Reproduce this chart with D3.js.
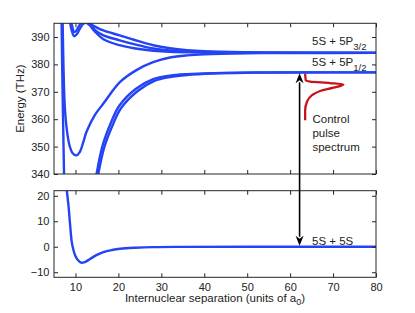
<!DOCTYPE html>
<html>
<head>
<meta charset="utf-8">
<script src="https://cdn.jsdelivr.net/npm/d3@7"></script>
<style>
  body { margin: 0; background: #fff; }
  text { font-family: "Liberation Sans", Arial, sans-serif; fill: #222; }
</style>
</head>
<body>
<div id="chart"></div>
<script>
// excited state potentials (separation in a0, energy in THz)
const curveA = [[6.75, 397], [6.9, 380], [7.05, 365], [7.2, 352], [7.35, 339]];
const curveB = [[7.0, 397], [7.2, 380], [7.5, 365], [8.0, 356], [8.6, 350.5], [9.3, 347.7], [10.2, 346.8],
  [11.0, 348.0], [11.8, 351.5], [12.6, 355.5], [14.5, 361.5], [16.5, 365.7], [20.4, 373.6], [24.3, 378.0],
  [28.1, 380.8], [32, 382.5], [36, 383.3], [40, 383.7], [50, 384.05], [60, 384.15], [80, 384.2]];
const curveU1 = [[12.6, 396.5], [14, 394.3], [16.5, 392.4], [20.3, 390.6], [23.6, 389.0], [28.1, 387.0],
  [32, 385.9], [36, 385.2], [40, 384.8], [50, 384.45], [60, 384.3], [80, 384.2]];
const curveU2 = [[8.9, 397], [9.3, 393.5], [9.7, 391.8], [10.2, 392.3], [10.8, 394], [11.6, 395.8], [12.3, 396.2],
  [13.2, 395.0], [14.5, 392.6], [16.5, 390.6], [20.3, 388.8], [23.6, 387.4], [28.1, 385.8], [32, 385.1],
  [36, 384.75], [40, 384.55], [50, 384.35], [60, 384.25], [80, 384.2]];
const curveU3 = [[8.6, 397], [9.1, 392.5], [9.7, 390.3], [10.3, 391], [11.0, 393], [11.8, 394.8], [12.5, 395.2],
  [13.3, 394.3], [14.5, 392], [16.5, 389.2], [20.3, 387.0], [23.6, 385.9], [28.1, 385.0], [32, 384.6],
  [40, 384.35], [50, 384.25], [80, 384.2]];
const curveL1 = [[14.8, 339], [16.3, 350.3], [18.3, 358.9], [20.2, 364.9], [24.1, 371.1], [28.1, 374.6], [32, 375.9],
  [36, 376.45], [42, 376.82], [50, 377.0], [60, 377.08], [80, 377.1]];
const curveL2 = [[15.2, 339], [16.7, 349.7], [18.7, 358.0], [20.6, 364.0], [24.5, 370.3], [28.4, 374.0], [32, 375.4],
  [36, 376.15], [42, 376.68], [50, 376.95], [60, 377.06], [80, 377.1]];
const excitedCurves = [curveA, curveB, curveU1, curveU2, curveU3, curveL1, curveL2];

// ground state potential (THz)
const groundCurve = [[7.9, 24], [7.97, 22.3], [8.36, 16.4], [8.76, 8.45], [9.14, 1.8], [9.5, -1.1], [9.93, -3.45],
  [10.6, -5.3], [11.4, -6.3], [12.2, -6.0], [13.4, -4.8], [15, -3.2], [16.5, -2.1], [18.5, -1.3], [20.4, -0.8],
  [24, -0.4], [28.2, -0.15], [35, -0.05], [50, 0], [80, 0]];

// control pulse spectrum, drawn sideways from a baseline separation
const spectrumBase = 63.5;
const spectrumEnergy = [376.6, 374.2, 373.7, 373.2, 372.7, 371.5, 370.3, 368.7, 366.3, 363.3, 359.6];
const spectrumAmp = [0, 0.15, 1.2, 5.8, 8.9, 6.6, 3.5, 1.55, 0.4, 0, 0];

const arrowSep = 62.2;
const levelP32 = 384.2, levelP12 = 377.1, levelS = 0;

const xTicks = [10, 20, 30, 40, 50, 60, 70, 80];
const topYTicks = [340, 350, 360, 370, 380, 390];
const botYTicks = [-10, 0, 10, 20];

const width = 415, height = 313;
const blue = '#2444f4', red = '#c4141c', axisColor = '#262626';

const svg = d3.select('#chart').append('svg')
  .attr('width', width).attr('height', height);

const x = d3.scaleLinear().domain([5, 80]).range([54, 376]);
const yTop = d3.scaleLinear().domain([340, 395]).range([174, 23.3]);
const yBot = d3.scaleLinear().domain([-12, 22]).range([277.3, 190.7]);

// clip paths for the two panels
const defs = svg.append('defs');
defs.append('clipPath').attr('id', 'clipTop').append('rect')
  .attr('x', x.range()[0]).attr('y', yTop.range()[1])
  .attr('width', x.range()[1] - x.range()[0]).attr('height', yTop.range()[0] - yTop.range()[1]);
defs.append('clipPath').attr('id', 'clipBot').append('rect')
  .attr('x', x.range()[0]).attr('y', yBot.range()[1])
  .attr('width', x.range()[1] - x.range()[0]).attr('height', yBot.range()[0] - yBot.range()[1]);

const drawAxes = (y, yTicks, showX) => {
  const g = svg.append('g');
  const [y0, y1] = y.range();
  const style = sel => {
    sel.select('.domain').remove();
    sel.selectAll('line').attr('stroke', axisColor);
    sel.selectAll('text').style('font-size', '11px').attr('fill', '#222');
  };
  g.append('g').attr('transform', `translate(${x.range()[0]},0)`)
    .call(d3.axisLeft(y).tickValues(yTicks).tickSize(-4).tickPadding(4.5).tickFormat(d => d < 0 ? '\u2212' + Math.abs(d) : d))
    .call(style);
  g.append('g').attr('transform', `translate(${x.range()[1]},0)`)
    .call(d3.axisRight(y).tickValues(yTicks).tickSize(-4).tickFormat(''))
    .call(style);
  g.append('g').attr('transform', `translate(0,${y1})`)
    .call(d3.axisTop(x).tickValues(xTicks).tickSize(-4).tickFormat(''))
    .call(style);
  g.append('g').attr('transform', `translate(0,${y0})`)
    .call(d3.axisBottom(x).tickValues(xTicks).tickSize(-4).tickPadding(5.6).tickFormat(showX ? d => d : ''))
    .call(style);
  g.selectAll('.tick text').attr('font-family', null);
  g.append('rect')
    .attr('x', x.range()[0]).attr('y', y1)
    .attr('width', x.range()[1] - x.range()[0]).attr('height', y0 - y1)
    .attr('fill', 'none').attr('stroke', axisColor).attr('stroke-width', 1);
};

const lineTop = d3.line().x(d => x(d[0])).y(d => yTop(d[1])).curve(d3.curveCatmullRom.alpha(0.5));
const lineBot = d3.line().x(d => x(d[0])).y(d => yBot(d[1])).curve(d3.curveCatmullRom.alpha(0.5));

// top panel curves
svg.append('g').attr('clip-path', 'url(#clipTop)')
  .selectAll('path')
  .data(excitedCurves)
  .enter()
  .append('path')
  .attr('d', lineTop)
  .attr('fill', 'none')
  .attr('stroke', blue)
  .attr('stroke-width', 2.4);

// control pulse spectrum
const spectrum = spectrumEnergy.map((e, i) => [spectrumBase + spectrumAmp[i], e]);
svg.append('path')
  .attr('d', d3.line().x(d => x(d[0])).y(d => yTop(d[1])).curve(d3.curveMonotoneY)(spectrum))
  .attr('fill', 'none')
  .attr('stroke', red)
  .attr('stroke-width', 2.3);

// bottom panel curve
svg.append('g').attr('clip-path', 'url(#clipBot)')
  .append('path')
  .attr('d', lineBot(groundCurve))
  .attr('fill', 'none')
  .attr('stroke', blue)
  .attr('stroke-width', 2.4);

drawAxes(yTop, topYTicks, false);
drawAxes(yBot, botYTicks, true);

// double headed arrow between the two panels
const ax = x(arrowSep);
const aTop = yTop(levelP12) + 1, aBot = yBot(levelS) - 1;
const headL = 10, headW = 4;
svg.append('line')
  .attr('x1', ax).attr('x2', ax)
  .attr('y1', aTop + headL - 1).attr('y2', aBot - headL + 1)
  .attr('stroke', '#000').attr('stroke-width', 1.6);
svg.append('path')
  .attr('d', `M${ax},${aTop} L${ax - headW},${aTop + headL} L${ax},${aTop + headL - 3} L${ax + headW},${aTop + headL} Z`)
  .attr('fill', '#000');
svg.append('path')
  .attr('d', `M${ax},${aBot} L${ax - headW},${aBot - headL} L${ax},${aBot - headL + 3} L${ax + headW},${aBot - headL} Z`)
  .attr('fill', '#000');

// state labels
const stateLabel = (px, py, main, sub) => {
  const t = svg.append('text').attr('x', px).attr('y', py).style('font-size', '11.5px');
  t.append('tspan').text(main);
  if (sub) t.append('tspan').attr('dy', 5).style('font-size', '9.5px').text(sub);
};
stateLabel(x(65.1), yTop(levelP32) - 7.5, '5S + 5P', '3/2');
stateLabel(x(65.1), yTop(levelP12) - 6.5, '5S + 5P', '1/2');
stateLabel(x(65.1), yBot(levelS) - 1.8, '5S + 5S');

['Control', 'pulse', 'spectrum'].forEach((s, i) => {
  svg.append('text')
    .attr('x', x(65.2)).attr('y', 123.3 + i * 13.7)
    .style('font-size', '11.5px')
    .text(s);
});

// axis titles
svg.append('text')
  .attr('transform', `translate(24,${(yTop.range()[0] + yTop.range()[1]) / 2}) rotate(-90)`)
  .attr('text-anchor', 'middle')
  .style('font-size', '11.5px')
  .text('Energy (THz)');

const xl = svg.append('text')
  .attr('x', (x.range()[0] + x.range()[1]) / 2).attr('y', 301.5)
  .attr('text-anchor', 'middle')
  .style('font-size', '11.5px');
xl.append('tspan').text('Internuclear separation (units of a');
xl.append('tspan').attr('dy', 3.5).style('font-size', '9px').text('0');
xl.append('tspan').attr('dy', -3.5).text(')');
</script>
</body>
</html>
